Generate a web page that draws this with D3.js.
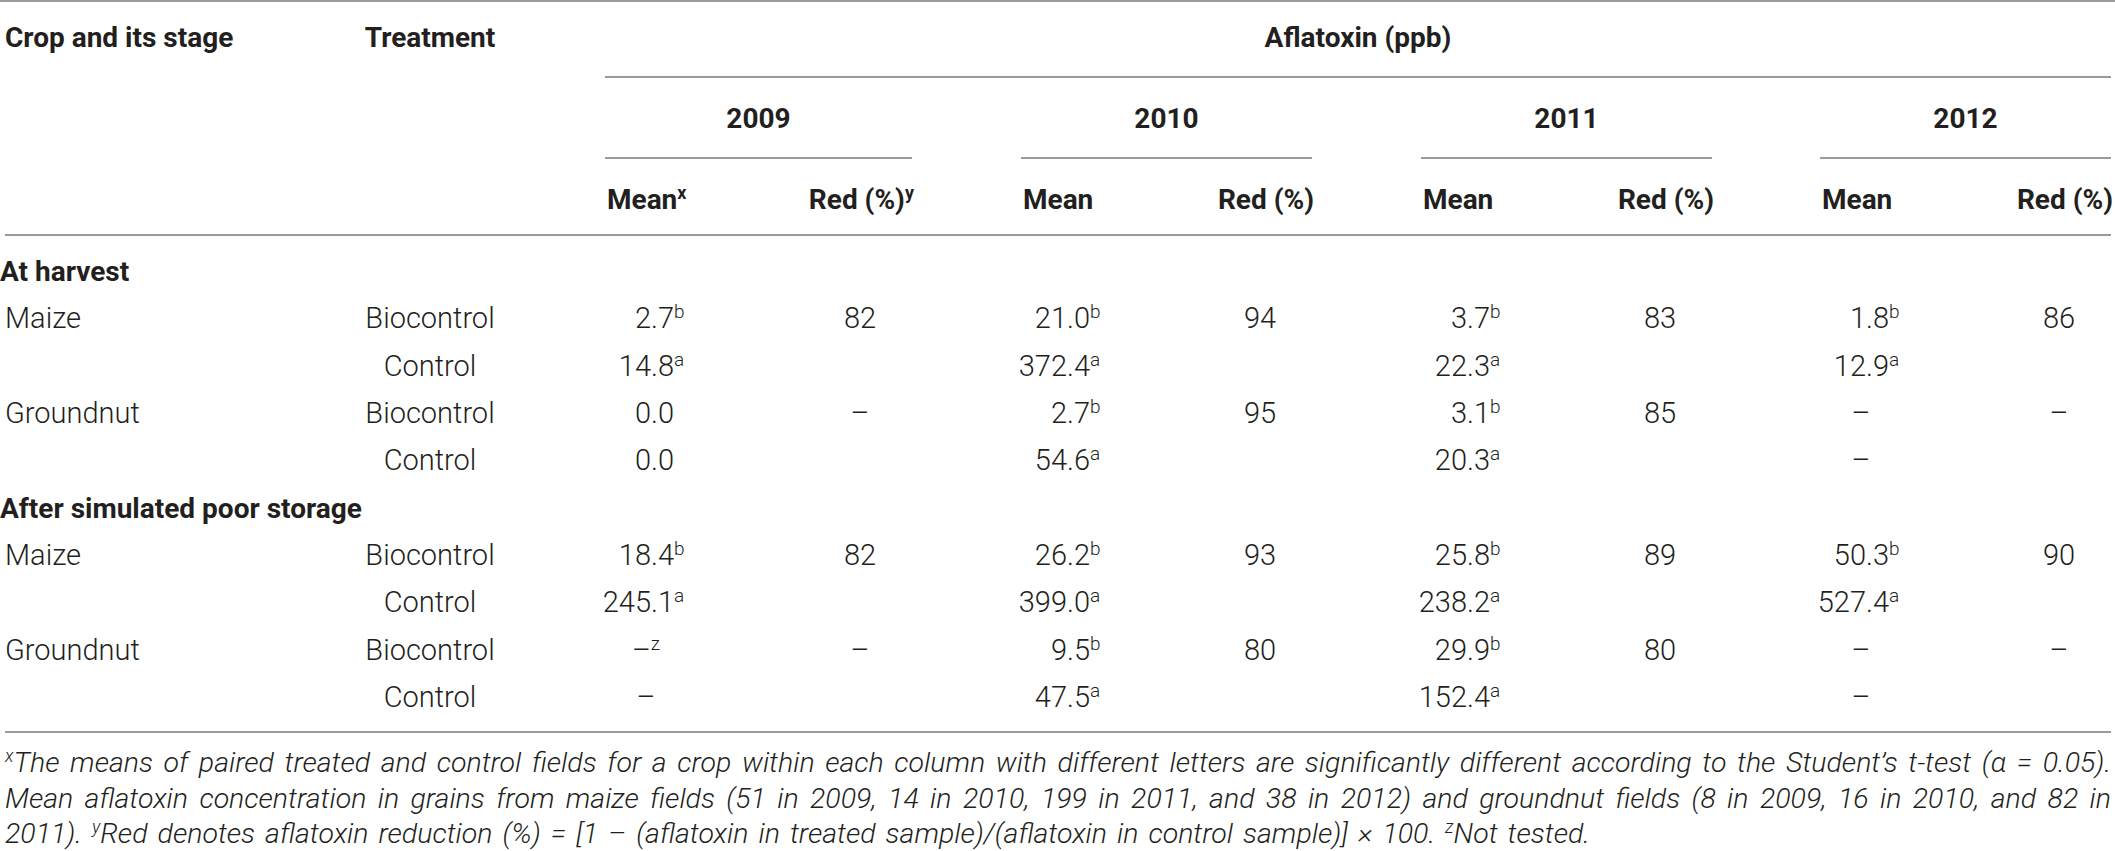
<!DOCTYPE html>
<meta charset="utf-8">
<script src="https://d3js.org/d3.v7.min.js"></script>
<style>
  body { margin: 0; background: #fff; }
  text { fill: #231f20; font-family: Roboto, "Liberation Sans", sans-serif; }
  .b { font-weight: 700; font-size: 28px; }
  .l { font-weight: 300; font-size: 29px; }
  .fn { font-weight: 300; font-size: 28.5px; font-style: italic; }
</style>
<div id="my_dataviz"></div>
<script>

// table content
var years = ["2009", "2010", "2011", "2012"];
var sections = ["At harvest", "After simulated poor storage"];
var crops = ["Maize", "Groundnut"];
var treatments = ["Biocontrol", "Control"];

// mean aflatoxin (ppb) per year, rows: harvest maize bio/ctrl, groundnut bio/ctrl, storage maize bio/ctrl, groundnut bio/ctrl
var mean2009 = ["2.7", "14.8", "0.0", "0.0", "18.4", "245.1", "–", "–"];
var mean2010 = ["21.0", "372.4", "2.7", "54.6", "26.2", "399.0", "9.5", "47.5"];
var mean2011 = ["3.7", "22.3", "3.1", "20.3", "25.8", "238.2", "29.9", "152.4"];
var mean2012 = ["1.8", "12.9", "–", "–", "50.3", "527.4", "–", "–"];

var letters2009 = ["b", "a", "", "", "b", "a", "z", ""];
var letters2010 = ["b", "a", "b", "a", "b", "a", "b", "a"];
var letters2011 = ["b", "a", "b", "a", "b", "a", "b", "a"];
var letters2012 = ["b", "a", "", "", "b", "a", "", ""];

// reduction (%)
var red2009 = ["82", "", "–", "", "82", "", "–", ""];
var red2010 = ["94", "", "95", "", "93", "", "80", ""];
var red2011 = ["83", "", "85", "", "89", "", "80", ""];
var red2012 = ["86", "", "–", "", "90", "", "–", ""];

var footnotes = [
  [["x", true], ["The means of paired treated and control fields for a crop within each column with different letters are significantly different according to the Student’s t-test (α = 0.05).", false]],
  [["Mean aflatoxin concentration in grains from maize fields (51 in 2009, 14 in 2010, 199 in 2011, and 38 in 2012) and groundnut fields (8 in 2009, 16 in 2010, and 82 in", false]],
  [["2011). ", false], ["y", true], ["Red denotes aflatoxin reduction (%) = [1 – (aflatoxin in treated sample)/(aflatoxin in control sample)] × 100. ", false], ["z", true], ["Not tested.", false]]
];

var means = {"2009": mean2009, "2010": mean2010, "2011": mean2011, "2012": mean2012};
var letters = {"2009": letters2009, "2010": letters2010, "2011": letters2011, "2012": letters2012};
var reds = {"2009": red2009, "2010": red2010, "2011": red2011, "2012": red2012};

var width = 2115, height = 851;

var svg = d3.select("#my_dataviz")
  .append("svg")
    .attr("width", width)
    .attr("height", height);

// build the row list
var rows = [], k = 0;
sections.forEach(function(s) {
  rows.push({section: s});
  crops.forEach(function(c) {
    treatments.forEach(function(t, i) {
      rows.push({crop: i === 0 ? c : "", treatment: t, k: k++});
    });
  });
});

// scales
var y = d3.scalePoint().domain(d3.range(rows.length)).range([271, 697]);
var yHead = d3.scaleOrdinal(["top", "year", "sub"], [37, 118, 199]);
var yFoot = d3.scalePoint().domain(d3.range(footnotes.length)).range([762, 833]);
var footEnd = d3.scaleOrdinal(d3.range(footnotes.length), [2111, 2111, 1590]);
var gStart = d3.scaleOrdinal(years, [605, 1021, 1421, 1820]);
var gEnd = d3.scaleOrdinal(years, [912, 1312, 1712, 2111]);
var base = 10; // centre -> baseline

function rule(x1, x2, yy) {
  svg.append("line")
    .attr("x1", x1).attr("x2", x2).attr("y1", yy).attr("y2", yy)
    .attr("stroke", "#9b9b9b").attr("stroke-width", 2);
}

function sup(sel, s, size) {
  if (!s) return;
  sel.append("tspan").attr("dy", -10).style("font-size", (size || 18) + "px").text(s);
}

// rules
rule(0, width, 1);
rule(605, 2111, 77);
years.forEach(function(yr) { rule(gStart(yr), gEnd(yr), 158); });
rule(5, 2111, 235);
rule(5, 2111, 732);

// header
svg.append("text").attr("class", "b").attr("x", 5).attr("y", yHead("top") + base).text("Crop and its stage");
svg.append("text").attr("class", "b").attr("x", 430).attr("y", yHead("top") + base)
  .attr("text-anchor", "middle").text("Treatment");
svg.append("text").attr("class", "b").attr("x", (605 + 2111) / 2).attr("y", yHead("top") + base)
  .attr("text-anchor", "middle").text("Aflatoxin (ppb)");

years.forEach(function(yr, i) {
  svg.append("text").attr("class", "b")
    .attr("x", (gStart(yr) + gEnd(yr)) / 2).attr("y", yHead("year") + base)
    .attr("text-anchor", "middle").text(yr);
  var m = svg.append("text").attr("class", "b")
    .attr("x", gStart(yr) + 2).attr("y", yHead("sub") + base);
  m.append("tspan").text("Mean");
  sup(m, i === 0 ? "x" : "");
  var r = svg.append("text").attr("class", "b")
    .attr("x", gEnd(yr) + 2).attr("y", yHead("sub") + base)
    .attr("text-anchor", "end");
  r.append("tspan").text("Red (%)");
  sup(r, i === 0 ? "y" : "");
});

// body rows
rows.forEach(function(d, i) {
  var yy = y(i) + base;
  if (d.section) {
    svg.append("text").attr("class", "b").attr("x", 0).attr("y", yy).text(d.section);
    return;
  }
  if (d.crop) svg.append("text").attr("class", "l").attr("x", 5).attr("y", yy).text(d.crop);
  svg.append("text").attr("class", "l").attr("x", 430).attr("y", yy)
    .attr("text-anchor", "middle").text(d.treatment);

  years.forEach(function(yr) {
    var v = means[yr][d.k], lt = letters[yr][d.k];
    var dec = gStart(yr) + 46;
    if (v.indexOf(".") >= 0) {
      var parts = v.split(".");
      svg.append("text").attr("class", "l").attr("x", dec).attr("y", yy)
        .attr("text-anchor", "end").text(parts[0]);
      var t = svg.append("text").attr("class", "l").attr("x", dec).attr("y", yy);
      t.append("tspan").text("." + parts[1]);
      sup(t, lt, 19);
    } else {
      var t2 = svg.append("text").attr("class", "l").attr("x", dec - 5).attr("y", yy)
        .attr("text-anchor", "middle");
      t2.append("tspan").text(v);
      sup(t2, lt, 19);
    }
    var rv = reds[yr][d.k];
    if (rv) {
      svg.append("text").attr("class", "l")
        .attr("x", gEnd(yr) - 52).attr("y", yy)
        .attr("text-anchor", "middle").text(rv);
    }
  });
});

// footnotes, spread by word spacing to the reference line ends
footnotes.forEach(function(parts, i) {
  var t = svg.append("text").attr("class", "fn").attr("x", 5).attr("y", yFoot(i) + base);
  var up = false;
  parts.forEach(function(p) {
    var ts = t.append("tspan").text(p[0]);
    if (p[1]) { ts.attr("dy", -10).style("font-size", "18px"); up = true; }
    else if (up) { ts.attr("dy", 10); up = false; }
  });
  var natural = t.node().getComputedTextLength();
  var txt = parts.map(function(p) { return p[0]; }).join("").trim();
  var spaces = txt.split(" ").length - 1;
  t.style("word-spacing", ((footEnd(i) - 5 - natural) / spaces) + "px");
});

</script>
